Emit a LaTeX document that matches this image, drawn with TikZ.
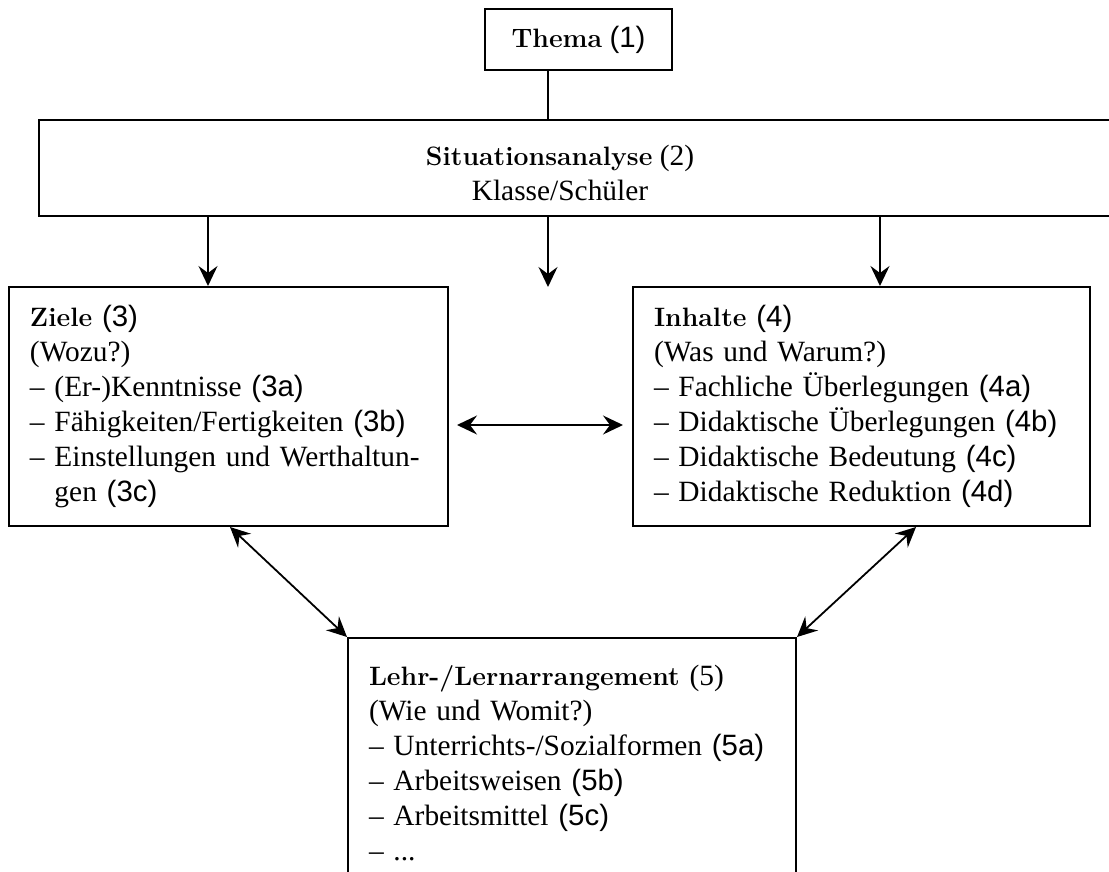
\documentclass[tikz,border=0pt]{standalone}
\usepackage{fontspec}
\newfontfamily\txtfont{Liberation Serif}
\newfontfamily\numfont{Liberation Sans}
\usetikzlibrary{arrows.meta,positioning}
\newcommand{\hd}[1]{{\rmfamily\bfseries\fontsize{13.3}{17.5}\selectfont #1}}
\newcommand{\nr}[1]{{\numfont #1}}

\begin{document}
\begin{tikzpicture}[x=0.5pt, y=-0.5pt,
    every node/.style={font=\txtfont\fontsize{14.7}{17.5}\selectfont},
    box/.style={draw, line width=1pt, inner ysep=0pt, inner xsep=10.5pt,
      align=left, anchor=north west, minimum height=119.5pt},
    arr/.style={line width=0.9pt, -{Stealth[length=10pt,width=9.5pt,inset=3.5pt]}},
    dblarr/.style={line width=0.9pt, {Stealth[length=10pt,width=9.5pt,inset=3.5pt]}-{Stealth[length=10pt,width=9.5pt,inset=3.5pt]}}]
  \clip (0,0) rectangle (1109,872);
  % boxes
  \node (thema) [draw, line width=0.8pt, inner sep=0pt,
    minimum width=93.5pt, minimum height=30.5pt] at (578.5,39.5)
    {\hd{Thema} \nr{(1)}};
  \node (sit) [draw, line width=1.1pt, anchor=north west, inner sep=0pt,
    minimum width=545pt, minimum height=48pt] at (38,119) {};
  \node (sitT) [align=center] at (560,173)
    {\hd{Situationsanalyse} (2)\\Klasse/Schüler};
  \node (zi) [box, text width=198.5pt] at (8,286)
    {\hd{Ziele} \nr{(3)}\\
     (Wozu?)\\
     – (Er-)Kenntnisse \nr{(3a)}\\
     – Fähigkeiten/Fertigkeiten \nr{(3b)}\\
     – Einstellungen und Werthaltun-\\
     \phantom{– }gen \nr{(3c)}};
  \node (in) [box, text width=207.5pt] at (632,286)
    {\hd{Inhalte} \nr{(4)}\\
     (Was und Warum?)\\
     – Fachliche Überlegungen \nr{(4a)}\\
     – Didaktische Überlegungen \nr{(4b)}\\
     – Didaktische Bedeutung \nr{(4c)}\\
     – Didaktische Reduktion \nr{(4d)}};
  \node (le) [box, text width=203pt, minimum height=125pt] at (347,637)
    {\hd{Lehr-/Lernarrangement} (5)\\
     (Wie und Womit?)\\
     – Unterrichts-/Sozialformen \nr{(5a)}\\
     – Arbeitsweisen \nr{(5b)}\\
     – Arbeitsmittel \nr{(5c)}\\
     – ...};
  % connectors
  \coordinate (mid) at (548,287);
  \coordinate (zl) at (208,0);
  \coordinate (ir) at (880,0);
  \coordinate (hz) at (0,425);
  \coordinate (zd) at (230,0);
  \coordinate (id) at (916,0);
  \draw[line width=0.9pt] (mid |- thema.south) -- (mid |- sit.north);
  \draw[arr] (zl |- sit.south) -- (zl |- zi.north);
  \draw[arr] (mid |- sit.south) -- (mid);
  \draw[arr] (ir |- sit.south) -- (ir |- in.north);
  \draw[dblarr, shorten <=4pt, shorten >=4.5pt] (zi.east |- hz) -- (in.west |- hz);
  \draw[dblarr] (zd |- zi.south) -- (le.north west);
  \draw[dblarr] (id |- in.south) -- (le.north east);
\end{tikzpicture}
\end{document}
